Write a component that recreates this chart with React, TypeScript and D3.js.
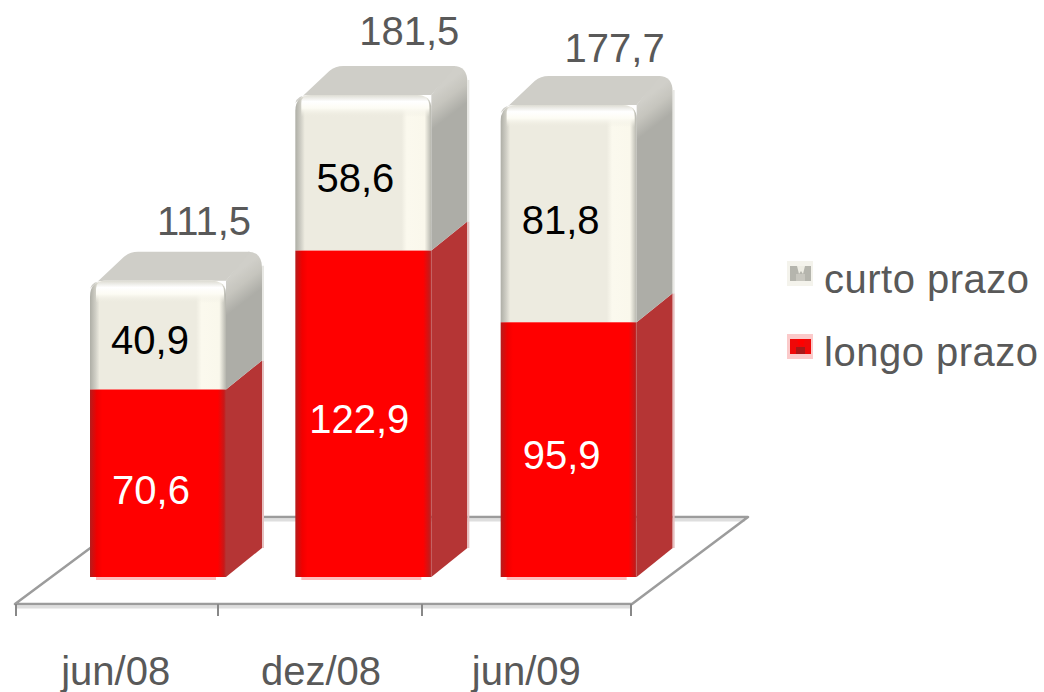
import React from "react";
import * as d3 from "d3";

const categories = ["jun/08", "dez/08", "jun/09"];
const longoPrazo = [70.6, 122.9, 95.9];
const curtoPrazo = [40.9, 58.6, 81.8];
const totals = ["111,5", "181,5", "177,7"];
const longoLabels = ["70,6", "122,9", "95,9"];
const curtoLabels = ["40,9", "58,6", "81,8"];
const legendItems = ["curto prazo", "longo prazo"];

const font = "'Liberation Sans', Arial, sans-serif";
const grayText = "#595959";
const W = 1044, H = 692;
const baseY = 577, floorFront = 604, floorBack = 517;
const barW = 136, dx = 36, dy = 29;
const x = d3.scaleBand<string>().domain(categories).range([16, 632]);
const tickX = d3.scaleLinear().domain([0, 1, 2, 3]).range([16, 218, 422, 631]);
const y = d3.scaleLinear().domain([0, 200]).range([baseY, baseY - 200 * 2.656]);

export default function App() {
  return (
    <svg width={W} height={H} viewBox={`0 0 ${W} ${H}`} style={{ position: "absolute", left: 0, top: 0, background: "#fff" }}>
      <defs>
        <linearGradient id="redF" x1="0" x2="1" y1="0" y2="0">
          <stop offset="0" stopColor="#b51c1c" />
          <stop offset="0.05" stopColor="#f00000" />
          <stop offset="0.09" stopColor="#ff0000" />
          <stop offset="0.94" stopColor="#ff0000" />
          <stop offset="0.985" stopColor="#c81818" />
          <stop offset="1" stopColor="#b53535" />
        </linearGradient>
        <linearGradient id="grayF" x1="0" x2="1" y1="0" y2="0">
          <stop offset="0" stopColor="#aeaea6" />
          <stop offset="0.04" stopColor="#cfcec5" />
          <stop offset="0.07" stopColor="#edebe0" />
          <stop offset="0.78" stopColor="#edebe0" />
          <stop offset="0.82" stopColor="#fbf9ee" />
          <stop offset="0.95" stopColor="#faf8ec" />
          <stop offset="1" stopColor="#b5b5ad" />
        </linearGradient>
        <linearGradient id="grayHi" x1="0" x2="0" y1="0" y2="1">
          <stop offset="0" stopColor="#dddcd3" />
          <stop offset="0.3" stopColor="#ffffff" />
          <stop offset="0.6" stopColor="#fdfcf4" />
          <stop offset="1" stopColor="#edebe0" stopOpacity="0" />
        </linearGradient>
      </defs>

      {/* floor */}
      <path d={`M15 ${floorFront + 3}H632`} stroke="#dedede" strokeWidth={3} fill="none" />
      <path d={`M132 ${floorBack + 3}H745`} stroke="#dedede" strokeWidth={3} fill="none" />
      <path d={`M15 ${floorFront}H632L748 ${floorBack}H132L15 ${floorFront}Z`} fill="none" stroke="#9c9c9c" strokeWidth={2.5} strokeLinejoin="round" />
      {d3.range(4).map((i) => (
        <line key={i} x1={tickX(i)} x2={tickX(i)} y1={floorFront} y2={floorFront + 12} stroke="#888" strokeWidth={2} />
      ))}

      {categories.map((c, i) => {
        const bx = x(c)! + 74;
        const r = bx + barW;
        const split = y(longoPrazo[i]);
        const top = y(longoPrazo[i] + curtoPrazo[i]);
        const gid = `side${i}`;
        const cx = bx + barW / 2;
        return (
          <g key={c}>
            <linearGradient id={gid} gradientUnits="userSpaceOnUse" x1={r} y1={top} x2={r + 17} y2={top + 22}>
              <stop offset="0" stopColor="#d0cfc9" />
              <stop offset="0.45" stopColor="#c6c5be" />
              <stop offset="1" stopColor="#adada7" />
            </linearGradient>
            {/* red side */}
            <path d={`M${r} ${baseY}L${r + dx} ${baseY - dy}V${split - dy}L${r} ${split}Z`} fill="#b53535" />
            <line x1={r + dx + 1} x2={r + dx + 1} y1={baseY - dy} y2={split - dy} stroke="#e6c0c0" strokeWidth={2} />
            {/* gray side */}
            <path d={`M${r} ${split}L${r + dx} ${split - dy}V${top - dy + 16}Q${r + dx} ${top - dy} ${r + dx - 14} ${top - dy}L${r} ${top}Z`} fill={`url(#${gid})`} />
            <line x1={r + dx + 1} x2={r + dx + 1} y1={split - dy} y2={top - dy + 14} stroke="#e8e8e4" strokeWidth={2} />
            {/* gray top */}
            <path d={`M${bx} ${top + 8}Q${bx + 2} ${top} ${bx + 14} ${top}H${r}L${r + dx - 12} ${top - dy}H${bx + dx + 12}Q${bx + dx + 4} ${top - dy} ${bx + dx - 2} ${top - dy + 5}Z`} fill="#cfcec8" />
            {/* gray front */}
            <path d={`M${bx} ${split}V${top + 16}Q${bx} ${top} ${bx + 16} ${top}H${r - 14}Q${r} ${top} ${r} ${top + 14}V${split}Z`} fill="url(#grayF)" />
            <path d={`M${bx + 6} ${top + 22}V${top + 8}Q${bx + 6} ${top} ${bx + 16} ${top}H${r - 14}Q${r - 2} ${top} ${r - 2} ${top + 12}V${top + 22}Z`} fill="url(#grayHi)" />
            {/* red front */}
            <rect x={bx} y={split} width={barW} height={baseY - split} fill="url(#redF)" />
            <rect x={bx + 6} y={baseY} width={barW - 16} height={3} fill="#ffbcbc" />
            {/* labels */}
            <text x={cx - 7 + (i === 1 ? 3 : 0)} y={(baseY + split) / 2 + [21, 19, 19][i]} fontFamily={font} fontSize={40} fill="#fff" textAnchor="middle">{longoLabels[i]}</text>
            <text x={cx - 8} y={(split + top) / 2 + [19, 19, 20][i]} fontFamily={font} fontSize={40} fill="#000" textAnchor="middle">{curtoLabels[i]}</text>
            <text x={cx + 46} y={top - dy - [17, 21, 14][i]} fontFamily={font} fontSize={40} fill={grayText} textAnchor="middle">{totals[i]}</text>
            <text x={x(c)! + x.bandwidth() / 2 - 3} y={685} fontFamily={font} fontSize={40} fill={grayText} textAnchor="middle">{c}</text>
          </g>
        );
      })}

      {/* legend */}
      {legendItems.map((l, i) => {
        const ly = 261 + i * 73;
        return (
          <g key={l}>
            <rect x={787} y={ly} width={26} height={25} fill={i === 0 ? "#f4f3ec" : "#fbcaca"} />
            <rect x={790} y={ly + 5} width={21} height={15} fill={i === 0 ? "#b5b5ad" : "#f00808"} />
            <path d={`M797 ${ly + 5}H805L803 ${ly + 13}L801 ${ly + 10}L799 ${ly + 13}Z`} fill={i === 0 ? "#eeede4" : "#ff0000"} />
            <rect x={796} y={ly + 13} width={9} height={7} fill={i === 0 ? "#c8c7bf" : "#a81818"} />
            <text x={824} y={ly + 32} fontFamily={font} fontSize={40} fill={grayText} letterSpacing={0.5}>{l}</text>
          </g>
        );
      })}
    </svg>
  );
}
